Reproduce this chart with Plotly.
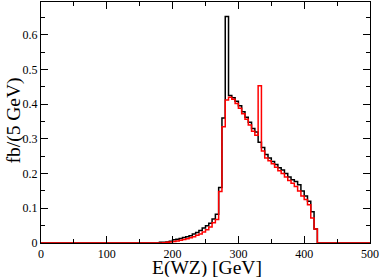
import numpy as np
import plotly.graph_objects as go

# Histogram data: fb per 5 GeV bin, bins starting at E = 180 GeV
bin_width = 5
first_bin = 180
x_min, x_max = 0, 500

black_vals = [0.002, 0.002, 0.003, 0.005, 0.009, 0.011, 0.013, 0.016, 0.018, 0.021,
              0.026, 0.030, 0.036, 0.043, 0.050, 0.057, 0.069, 0.083, 0.160, 0.360,
              0.652, 0.425, 0.418, 0.408, 0.395, 0.378, 0.362, 0.348, 0.330, 0.320,
              0.290, 0.275, 0.255, 0.245, 0.235, 0.226, 0.217, 0.210, 0.200, 0.190,
              0.182, 0.177, 0.168, 0.150, 0.135, 0.120, 0.090, 0.040]

red_vals = [0.000, 0.001, 0.002, 0.003, 0.004, 0.006, 0.008, 0.010, 0.012, 0.015,
            0.018, 0.022, 0.026, 0.032, 0.038, 0.046, 0.058, 0.068, 0.148, 0.335,
            0.412, 0.420, 0.414, 0.402, 0.388, 0.372, 0.356, 0.340, 0.322, 0.310,
            0.453, 0.265, 0.245, 0.237, 0.228, 0.218, 0.208, 0.200, 0.190, 0.180,
            0.172, 0.163, 0.150, 0.135, 0.125, 0.110, 0.072, 0.040]

x_ticks = [0, 100, 200, 300, 400, 500]
y_ticks = [0, 0.1, 0.2, 0.3, 0.4, 0.5, 0.6]
y_tick_labels = ["0", "0.1", "0.2", "0.3", "0.4", "0.5", "0.6"]


def full_hist(vals):
    edges = np.arange(x_min, x_max + bin_width, bin_width)
    y = np.zeros(len(edges))
    i0 = (first_bin - x_min) // bin_width
    y[i0:i0 + len(vals)] = vals
    y[-1] = y[-2]
    return edges, y


fig = go.Figure()
for vals, col in [(black_vals, "black"), (red_vals, "red")]:
    ex, ey = full_hist(vals)
    fig.add_trace(go.Scatter(x=ex, y=ey, mode="lines", line_shape="hv",
                             line=dict(color=col, width=1.5), showlegend=False,
                             hoverinfo="skip"))

font = "Liberation Serif"
axis_common = dict(showline=True, linecolor="black", linewidth=1, mirror="ticks",
                   ticks="inside", ticklen=7, tickwidth=1, tickcolor="black",
                   showgrid=False, zeroline=False,
                   tickfont=dict(family=font, size=12, color="black"))

fig.update_xaxes(range=[x_min, x_max], tickvals=x_ticks,
                 minor=dict(ticks="inside", ticklen=4, dtick=50, tickcolor="black"),
                 **axis_common)
fig.update_yaxes(range=[0, 0.694], tickvals=y_ticks, ticktext=y_tick_labels,
                 minor=dict(ticks="inside", ticklen=4, dtick=0.05, tickcolor="black"),
                 **axis_common)

fig.update_layout(
    width=382, height=277,
    margin=dict(l=41, r=12, t=2, b=34),
    plot_bgcolor="white", paper_bgcolor="white",
    annotations=[
        dict(text="E(WZ) [GeV]", x=0.5, y=0, xref="paper", yref="paper",
             xanchor="center", yanchor="middle", yshift=-24.5, xshift=1, showarrow=False,
             font=dict(family=font, size=19.5, color="black")),
        dict(text="fb/(5 GeV)", x=0, y=0.5, xref="paper", yref="paper",
             xanchor="center", yanchor="middle", xshift=-28, yshift=2, textangle=-90,
             showarrow=False, font=dict(family=font, size=19.5, color="black")),
    ],
)

fig.write_html("out.html", post_script="document.body.style.margin='0';",
               config={"displayModeBar": False})
